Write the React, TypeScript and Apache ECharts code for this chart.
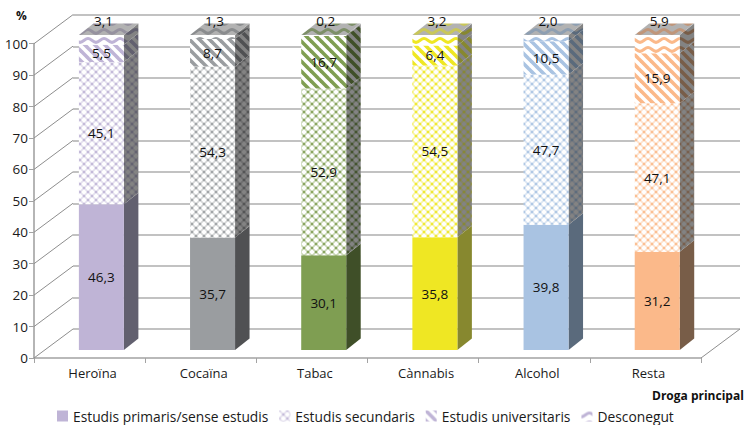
import React, { useEffect, useRef } from "react";
import * as echarts from "echarts";

const categories = ["Heroïna", "Cocaïna", "Tabac", "Cànnabis", "Alcohol", "Resta"];
const primaris = [46.3, 35.7, 30.1, 35.8, 39.8, 31.2];
const secundaris = [45.1, 54.3, 52.9, 54.5, 47.7, 47.1];
const universitaris = [5.5, 8.7, 16.7, 6.4, 10.5, 15.9];
const desconegut = [3.1, 1.3, 0.2, 3.2, 2.0, 5.9];
const seriesNames = ["Estudis primaris/sense estudis", "Estudis secundaris", "Estudis universitaris", "Desconegut"];
const frontColors = ["#bfb4d6", "#9a9da0", "#7f9e52", "#efe723", "#a9c3e2", "#fbb98a"];
const sideColors = ["#62606f", "#505153", "#3f4f28", "#87882f", "#5a6a7c", "#785d48"];
const topColors = ["#96929f", "#8a8c8e", "#7d8f68", "#c9c75a", "#8e9fb2", "#c0967a"];
const yTicks = [0, 10, 20, 30, 40, 50, 60, 70, 80, 90, 100];
const FONT = "'Open Sans', sans-serif";
const DX = 14.5, DY = 11.5, BAR = 45;

type Kind = "lattice" | "stripes" | "waves";
function tile(kind: Kind, fg: string, bg: string) {
  const size = kind === "waves" ? 16 : kind === "stripes" ? 10 : 8;
  const h = kind === "waves" ? 9 : size;
  const c = document.createElement("canvas");
  c.width = size; c.height = h;
  const g = c.getContext("2d")!;
  g.fillStyle = bg; g.fillRect(0, 0, size, h);
  g.strokeStyle = fg; g.fillStyle = fg;
  if (kind === "lattice") {
    g.globalAlpha = 0.42; g.lineWidth = 1.7;
    for (const [a, b, d, e] of [[-2, -2, 10, 10], [-2, 10, 10, -2], [-2, 6, 2, 10], [6, -2, 10, 2], [-2, 2, 2, -2], [6, 10, 10, 6]]) {
      g.beginPath(); g.moveTo(a, b); g.lineTo(d, e); g.stroke();
    }
    g.globalAlpha = 0.8;
    for (const [a, b] of [[0, 0], [8, 0], [0, 8], [8, 8], [4, 4]]) { g.beginPath(); g.arc(a, b, 1.3, 0, 7); g.fill(); }
    g.globalAlpha = 1; g.fillStyle = bg;
    for (const [a, b] of [[4, 0], [0, 4], [8, 4], [4, 8]]) { g.beginPath(); g.arc(a, b, 1.5, 0, 7); g.fill(); }
  } else if (kind === "stripes") {
    g.lineWidth = 3.6;
    for (let o = -10; o <= 10; o += 10) { g.beginPath(); g.moveTo(o - 2, -2); g.lineTo(o + 12, 12); g.stroke(); }
  } else {
    g.lineWidth = 3;
    for (const dy of [-9, 0, 9]) {
      g.beginPath(); g.moveTo(-1, 6.5 + dy);
      g.bezierCurveTo(3, 6.5 + dy, 5, 2.5 + dy, 8, 2.5 + dy); g.bezierCurveTo(11, 2.5 + dy, 13, 6.5 + dy, 17, 6.5 + dy);
      g.stroke();
    }
  }
  return { image: c, repeat: "repeat", imageWidth: size, imageHeight: h } as any;
}

const KINDS: (Kind | null)[] = [null, "lattice", "stripes", "waves"];
const paint = (seg: number, fg: string, bg: string) => {
  const k = KINDS[seg];
  return k ? tile(k, fg, bg) : fg;
};

export default function App() {
  const ref = useRef<HTMLDivElement>(null);
  useEffect(() => {
    const chart = echarts.init(ref.current!, undefined, { renderer: "svg" });
    const values = [primaris, secundaris, universitaris, desconegut];
    const fmt = (v: number) => v.toFixed(1).replace(".", ",");

    const barSeries = values.map((vals, s) => ({
      type: "bar",
      name: seriesNames[s],
      stack: "t",
      xAxisIndex: 2,
      yAxisIndex: 2,
      barWidth: BAR,
      z: 3,
      itemStyle: { color: paint(s, frontColors[0], "#ffffff") },
      label: {
        show: true,
        position: s === 3 ? "top" : "inside",
        distance: 7,
        offset: s === 3 ? [2, 0] : [0, 0],
        color: "#111",
        fontFamily: FONT,
        fontSize: 13.5,
        formatter: (p: any) => fmt(p.value),
      },
      data: vals.map((v, i) => ({
        value: v,
        itemStyle: { color: paint(s, frontColors[i], "#ffffff") },
      })),
    }));

    const sideData: number[][] = [];
    categories.forEach((_, i) => {
      let acc = 0;
      values.forEach((vals, s) => {
        sideData.push([i, acc, acc + vals[i], s]);
        acc += vals[i];
      });
    });
    const sideFills: Record<string, any> = {};
    const sideFill = (i: number, s: number) =>
      (sideFills[i + "-" + s] ||= paint(s, sideColors[i], "#838383"));
    const topFills = categories.map((_, i) => tile("waves", topColors[i], "#b2b2b2"));

    const sideSeries = {
      type: "custom",
      xAxisIndex: 2,
      yAxisIndex: 2,
      z: 1,
      silent: true,
      encode: { x: 0, y: [1, 2] },
      data: sideData,
      renderItem: (_: any, api: any) => {
        const i = api.value(0), s = api.value(3);
        const a = api.coord([i, api.value(1)]);
        const b = api.coord([i, Math.min(api.value(2), 100)]);
        const xr = a[0] + BAR / 2;
        return {
          type: "polygon",
          shape: { points: [[xr, a[1]], [xr + DX, a[1] - DY], [xr + DX, b[1] - DY], [xr, b[1]]] },
          style: { fill: sideFill(i, s) },
        };
      },
    };
    const topSeries = {
      type: "custom",
      xAxisIndex: 2,
      yAxisIndex: 2,
      z: 1,
      silent: true,
      encode: { x: 0, y: 1 },
      data: categories.map((_, i) => [i, 100]),
      renderItem: (_: any, api: any) => {
        const i = api.value(0);
        const p = api.coord([i, api.value(1)]);
        const xl = p[0] - BAR / 2, xr = p[0] + BAR / 2, y = p[1];
        return {
          type: "polygon",
          shape: { points: [[xl, y], [xl + DX, y - DY], [xr + DX, y - DY], [xr, y]] },
          style: { fill: topFills[i] },
        };
      },
    };
    const wallSeries = {
      type: "custom",
      xAxisIndex: 0,
      yAxisIndex: 0,
      z: 1,
      silent: true,
      encode: { y: 1 },
      data: [...yTicks.map((t) => [0, t, 0]), [0, 0, 1]],
      renderItem: (params: any, api: any) => {
        const y = api.coord([0, api.value(1)])[1];
        const cs = params.coordSys;
        const x = api.value(2) ? cs.x + cs.width : cs.x;
        return {
          type: "line",
          shape: { x1: x, y1: y, x2: x + 39, y2: y - 29 },
          style: { stroke: "#8e8e8e", lineWidth: 1 },
        };
      },
    };

    chart.setOption({
      animation: false,
      textStyle: { fontFamily: FONT },
      grid: [
        { left: 34, width: 667, top: 43.7, height: 314.3 },
        { left: 73, width: 667, top: 15, height: 314 },
        { left: 45.8, width: 667, top: 35, height: 315 },
      ],
      xAxis: [
        {
          gridIndex: 0,
          type: "category",
          data: categories,
          axisLine: { lineStyle: { color: "#a3a3a3", width: 1.5 } },
          axisTick: { show: true, length: 5, lineStyle: { color: "#a3a3a3" } },
          axisLabel: { color: "#1a1a1a", fontFamily: FONT, fontSize: 13, margin: 8, padding: [0, 0, 0, 6] },
        },
        { gridIndex: 1, type: "category", data: categories, show: false },
        { gridIndex: 2, type: "category", data: categories, show: false },
      ],
      yAxis: [
        {
          gridIndex: 0,
          type: "value",
          min: 0,
          max: 100,
          interval: 10,
          axisLine: { show: true, lineStyle: { color: "#b5b5b5", width: 2 } },
          axisTick: { show: true, length: 5, lineStyle: { color: "#a3a3a3" } },
          axisLabel: { color: "#1a1a1a", fontFamily: FONT, fontSize: 13.5, margin: 6 },
          splitLine: { show: false },
        },
        {
          gridIndex: 1,
          type: "value",
          min: 0,
          max: 100,
          interval: 10,
          axisLine: { show: false },
          axisTick: { show: false },
          axisLabel: { show: false },
          splitLine: { show: true, lineStyle: { color: "#aeaeae", width: 1.5 } },
        },
        { gridIndex: 2, type: "value", min: 0, max: 100, interval: 10, show: false },
      ],
      legend: {
        left: 57,
        top: 409,
        padding: 0,
        itemWidth: 11,
        itemHeight: 11,
        itemGap: 11,
        icon: "rect",
        data: seriesNames,
        textStyle: { color: "#1a1a1a", fontFamily: FONT, fontSize: 13.8 },
      },
      graphic: [
        { type: "text", x: 16, y: 9, style: { text: "%", font: `bold 12px ${FONT}`, fill: "#111" } },
        { type: "text", x: 652, y: 389, style: { text: "Droga principal", font: `bold 12px ${FONT}`, fill: "#111" } },
      ],
      series: [wallSeries, sideSeries, topSeries, ...barSeries],
    });
    return () => chart.dispose();
  }, []);
  return <div ref={ref} style={{ width: 745, height: 425, position: "absolute", left: 0, top: 0 }} />;
}
